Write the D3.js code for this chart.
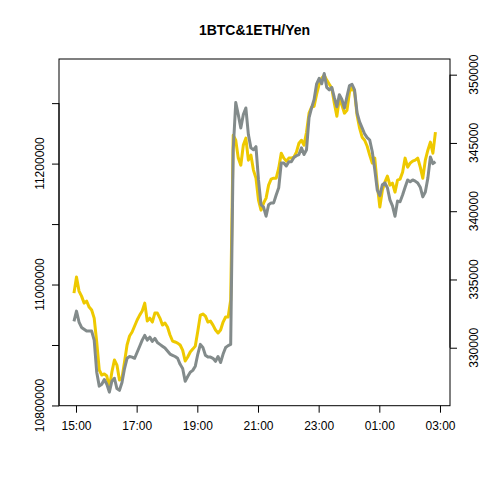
<!DOCTYPE html>
<html>
<head>
<meta charset="utf-8">
<script src="https://cdn.jsdelivr.net/npm/d3@7"></script>
<style>
  body { margin: 0; background: #fff; }
  text { font-family: "Liberation Sans", Arial, sans-serif; }
</style>
</head>
<body>
<div id="chart"></div>
<script>
// 5-minute samples, 14:56 -> 02:51
const startTime = new Date(2024, 2, 1, 14, 56);
const stepMinutes = 5;

// 1 BTC in yen (left axis)
const btc = [
  10939000, 10956000, 10938000, 10929000, 10926000, 10923000, 10923000, 10923000, 10908000, 10855000,
  10832000, 10835000, 10843000, 10835000, 10822000, 10840000, 10845000, 10828000, 10825000, 10838000,
  10861000, 10878000, 10881000, 10880000, 10878000, 10888000, 10898000, 10908000, 10916000, 10908000,
  10913000, 10906000, 10911000, 10904000, 10901000, 10898000, 10895000, 10890000, 10885000, 10883000,
  10881000, 10878000, 10868000, 10861000, 10840000, 10848000, 10855000, 10858000, 10865000, 10885000,
  10901000, 10896000, 10883000, 10880000, 10880000, 10878000, 10873000, 10881000, 10871000, 10885000,
  10896000, 10899000, 10901000, 11223000, 11301000, 11281000, 11259000, 11281000, 11292000, 11248000,
  11226000, 11223000, 11228000, 11173000, 11132000, 11128000, 11113000, 11132000, 11135000, 11135000,
  11148000, 11160000, 11201000, 11201000, 11196000, 11203000, 11203000, 11210000, 11213000, 11215000,
  11226000, 11215000, 11223000, 11276000, 11292000, 11306000, 11332000, 11341000, 11332000, 11349000,
  11326000, 11322000, 11326000, 11309000, 11294000, 11314000, 11306000, 11292000, 11311000, 11329000,
  11331000, 11322000, 11284000, 11269000, 11259000, 11249000, 11243000, 11239000, 11220000, 11190000,
  11156000, 11147000, 11165000, 11168000, 11160000, 11140000, 11130000, 11113000, 11138000, 11137000,
  11148000, 11161000, 11173000, 11170000, 11173000, 11171000, 11168000, 11161000, 11145000, 11153000,
  11176000, 11211000, 11200000, 11203000
];

// 1 ETH in yen (right axis)
const eth = [
  334000, 335180, 334150, 333780, 333270, 333420, 332980, 332760, 332170, 330420,
  328370, 328000, 328080, 327930, 327050, 328220, 329100, 328730, 327640, 327780,
  328950, 330200, 330860, 331150, 331590, 332030, 332390, 332690, 333270, 331950,
  332170, 331880, 332540, 332540, 332170, 331660, 331810, 331520, 330930, 330490,
  330420, 330340, 330200, 329830, 329030, 329320, 329690, 329900, 330120, 331220,
  332390, 332470, 332320, 331880, 331950, 331660, 331300, 331080, 331300, 331880,
  332250, 332250, 333490, 345570, 345200, 343890, 343370, 344840, 345350, 343740,
  344110, 343010, 342420, 340810, 340080, 340590, 340960, 341910, 342350, 342420,
  342420, 343150, 344250, 343890, 343670, 343890, 343890, 343960, 344330, 344980,
  345200, 344840, 345790, 347180, 347620, 347690, 348570, 349300, 349740, 349960,
  349600, 349300, 349010, 347910, 346960, 348280, 347770, 347180, 347400, 348720,
  349080, 348720, 347030, 346080, 345420, 345200, 344760, 344110, 343520, 343890,
  341910, 340300, 341540, 342130, 342570, 341910, 342060, 341400, 342280, 342350,
  342860, 343890, 343230, 343520, 343670, 343740, 343890, 343230, 342420, 343740,
  344470, 345060, 344250, 345790
];

const btcTicks = [10800000, 10900000, 11000000, 11100000, 11200000, 11300000];
const btcLabels = [10800000, 11000000, 11200000];
const ethTicks = [330000, 335000, 340000, 345000, 350000];
const timeTicks = ["15:00", "17:00", "19:00", "21:00", "23:00", "01:00", "03:00"];

const title = "1BTC&1ETH/Yen";

const W = 480, H = 480;
const plot = {left: 59, right: 450, top: 59, bottom: 405.7};

const times = btc.map((d, i) => d3.timeMinute.offset(startTime, i * stepMinutes));
const data = times.map((t, i) => ({t, btc: btc[i], eth: eth[i]}));

const svg = d3.select("#chart").append("svg")
  .attr("width", W)
  .attr("height", H);

const x = d3.scaleTime()
  .domain([new Date(2024, 2, 1, 14, 26, 24), new Date(2024, 2, 2, 3, 19, 48)])
  .range([plot.left, plot.right]);

const yL = d3.scaleLinear()
  .domain([10799600, 11373000])
  .range([plot.bottom, plot.top]);

const yR = d3.scaleLinear()
  .domain([325754, 351149])
  .range([plot.bottom, plot.top]);

// time tick values from labels
const tickDates = timeTicks.map(s => {
  const [h, m] = s.split(":").map(Number);
  const day = h < 12 ? 2 : 1;
  return new Date(2024, 2, day, h, m);
});

// lines
const lineEth = d3.line().x(d => x(d.t)).y(d => yR(d.eth));
const lineBtc = d3.line().x(d => x(d.t)).y(d => yL(d.btc));

svg.append("path")
  .datum(data)
  .attr("d", lineEth)
  .attr("fill", "none")
  .attr("stroke", "#EEC900")
  .attr("stroke-width", 3)
  .attr("stroke-linejoin", "round");

svg.append("path")
  .datum(data)
  .attr("d", lineBtc)
  .attr("fill", "none")
  .attr("stroke", "#838B8B")
  .attr("stroke-width", 3)
  .attr("stroke-linejoin", "round");

// box
svg.append("rect")
  .attr("x", plot.left)
  .attr("y", plot.top)
  .attr("width", plot.right - plot.left)
  .attr("height", plot.bottom - plot.top)
  .attr("fill", "none")
  .attr("stroke", "#000");

// bottom axis
const xAxis = svg.append("g")
  .attr("transform", `translate(0,${plot.bottom})`)
  .call(d3.axisBottom(x).tickValues(tickDates).tickFormat(d3.timeFormat("%H:%M")).tickSize(7).tickPadding(9));
xAxis.select(".domain").remove();
xAxis.selectAll("text").attr("font-size", 12).attr("fill", "#000")
  .attr("font-family", "Liberation Sans, Arial, sans-serif");

// left axis
const leftAxis = svg.append("g")
  .attr("transform", `translate(${plot.left},0)`)
  .call(d3.axisLeft(yL).tickValues(btcTicks).tickSize(7).tickFormat(""));
leftAxis.select(".domain").attr("d", `M0,${yL(btcTicks[0])}V${yL(btcTicks[btcTicks.length - 1])}`);

svg.append("g").selectAll("text")
  .data(btcLabels)
  .join("text")
  .attr("transform", d => `translate(43.5,${yL(d)}) rotate(-90)`)
  .attr("text-anchor", "middle")
  .attr("font-size", 12)
  .text(d => d3.format("d")(d));

// right axis
const rightAxis = svg.append("g")
  .attr("transform", `translate(${plot.right},0)`)
  .call(d3.axisRight(yR).tickValues(ethTicks).tickSize(7).tickFormat(""));
rightAxis.select(".domain").attr("d", `M0,${yR(ethTicks[0])}V${yR(ethTicks[ethTicks.length - 1])}`);

svg.append("g").selectAll("text")
  .data(ethTicks)
  .join("text")
  .attr("transform", d => `translate(477.5,${yR(d)}) rotate(-90)`)
  .attr("text-anchor", "middle")
  .attr("font-size", 12)
  .text(d => d3.format("d")(d));

// title
svg.append("text")
  .attr("x", (plot.left + plot.right) / 2)
  .attr("y", 35)
  .attr("text-anchor", "middle")
  .attr("font-size", 14)
  .attr("font-weight", "bold")
  .text(title);
</script>
</body>
</html>
